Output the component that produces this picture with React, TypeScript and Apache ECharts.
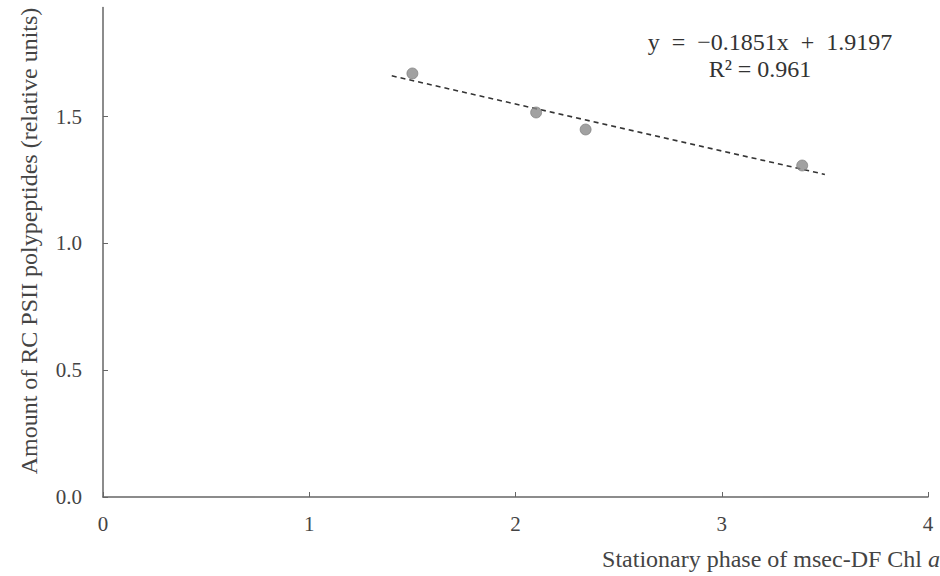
import React, { useEffect, useRef } from "react";
import * as echarts from "echarts";

const X_VALUES = [1.5, 2.1, 2.34, 3.39];
const Y_VALUES = [1.67, 1.516, 1.449, 1.307];
const SLOPE = -0.1851;
const INTERCEPT = 1.9197;
const TREND_X = [1.4, 3.5];
const X_TICKS = [0, 1, 2, 3, 4];
const Y_TICKS = [0, 0.5, 1, 1.5];
const EQUATION = "y\u2002=\u2002\u22120.1851x\u2002+\u20021.9197";
const R2_TEXT = "R\u00b2 = 0.961";

const FONT = "'Liberation Serif', 'DejaVu Serif', serif";

export default function App() {
  const ref = useRef<HTMLDivElement>(null);
  useEffect(() => {
    if (!ref.current) return;
    const chart = echarts.init(ref.current, undefined, { renderer: "svg" });
    const points = X_VALUES.map((x, i) => [x, Y_VALUES[i]]);
    const trend = TREND_X.map((x) => [x, SLOPE * x + INTERCEPT]);
    chart.setOption({
      animation: false,
      backgroundColor: "#ffffff",
      grid: { left: 103, right: 12, top: 7.5, bottom: 79 },
      textStyle: { fontFamily: FONT },
      xAxis: {
        type: "value",
        min: 0,
        max: 4,
        interval: 1,
        splitLine: { show: false },
        axisLine: { lineStyle: { color: "#666", width: 1.5 } },
        axisTick: { show: true, inside: true, length: 5, lineStyle: { color: "#666" }, customValues: X_TICKS },
        axisLabel: { color: "#444", fontSize: 21, fontFamily: FONT, margin: 16, customValues: X_TICKS },
      },
      yAxis: {
        type: "value",
        min: 0,
        max: 1.93,
        interval: 0.5,
        splitLine: { show: false },
        axisLine: { show: true, lineStyle: { color: "#666", width: 1.5 } },
        axisTick: { show: true, inside: true, length: 5, lineStyle: { color: "#666" }, customValues: Y_TICKS },
        axisLabel: {
          color: "#444",
          fontSize: 21,
          fontFamily: FONT,
          margin: 21,
          customValues: Y_TICKS,
          formatter: (v: number) => v.toFixed(1),
        },
      },
      graphic: [
        {
          type: "text",
          x: 29,
          y: 241,
          rotation: Math.PI / 2,
          style: {
            text: "Amount of RC PSII polypeptides (relative units)",
            fill: "#444",
            font: `24px ${FONT}`,
            textAlign: "center",
            textVerticalAlign: "middle",
          },
        },
        {
          type: "text",
          x: 940,
          y: 559,
          style: {
            text: "Stationary phase of msec-DF Chl {a|a}",
            rich: { a: { fontStyle: "italic", fontSize: 24, fontFamily: FONT, fill: "#444" } },
            fill: "#444",
            font: `24px ${FONT}`,
            textAlign: "right",
            textVerticalAlign: "middle",
          },
        },
        {
          type: "text",
          x: 770,
          y: 42,
          style: {
            text: EQUATION,
            fill: "#333",
            font: `24px ${FONT}`,
            textAlign: "center",
            textVerticalAlign: "middle",
          },
        },
        {
          type: "text",
          x: 760,
          y: 69,
          style: {
            text: R2_TEXT,
            fill: "#333",
            font: `24px ${FONT}`,
            textAlign: "center",
            textVerticalAlign: "middle",
          },
        },
      ],
      series: [
        {
          type: "line",
          data: trend,
          symbol: "none",
          lineStyle: { color: "#333", width: 1.6, type: [5, 4] },
          z: 2,
        },
        {
          type: "scatter",
          data: points,
          symbolSize: 11,
          itemStyle: { color: "#8a8a8a", borderColor: "#777", borderWidth: 0.8 },
          z: 3,
        },
      ],
    });
    return () => chart.dispose();
  }, []);
  return (
    <div
      ref={ref}
      style={{ position: "fixed", left: 0, top: 0, width: 940, height: 576, background: "#fff" }}
    />
  );
}
